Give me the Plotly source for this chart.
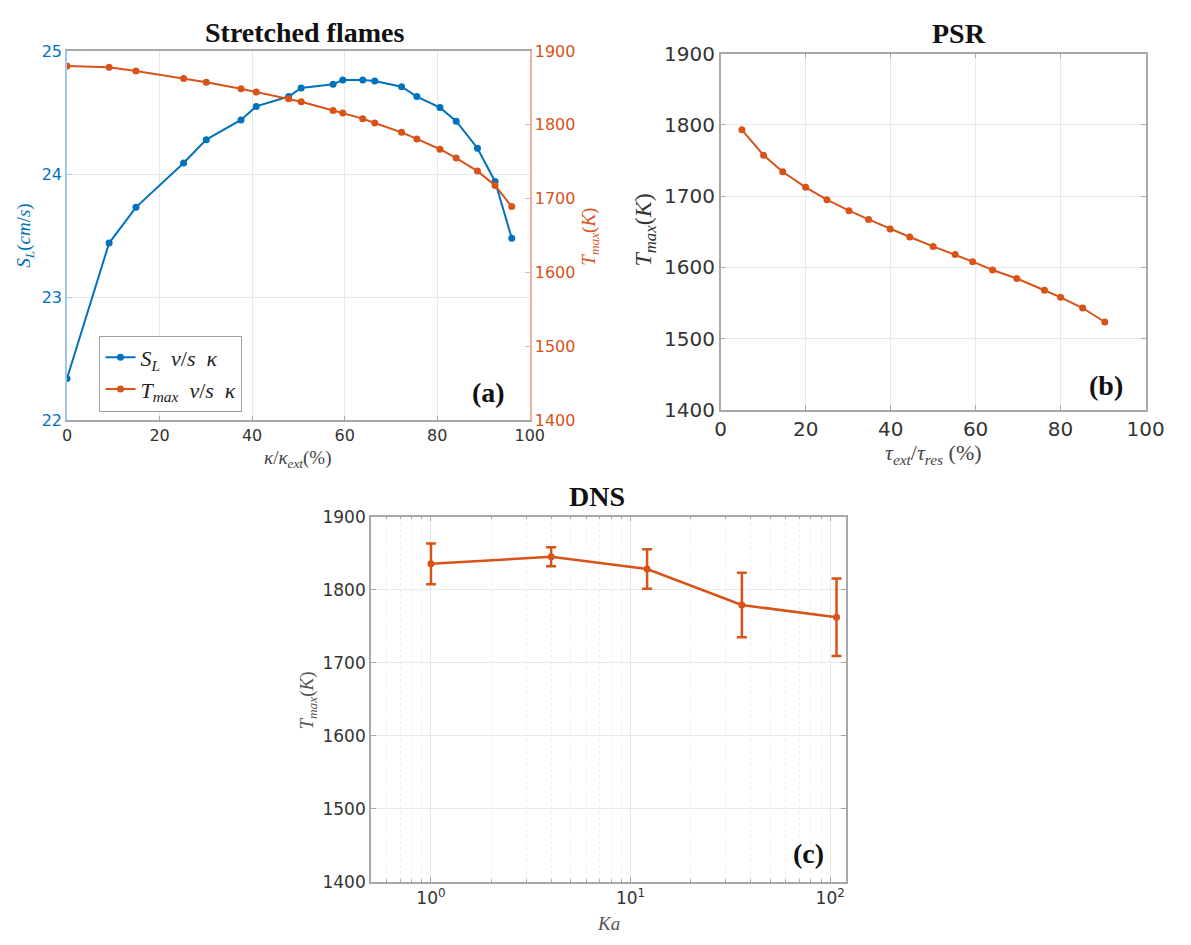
import plotly.graph_objects as go
import math

W, H = 1191, 945

# ---------------- data ----------------
# Panel (a): stretched flames
kappa_pct = [0, 9.1, 14.9, 25.2, 30.1, 37.6, 40.9, 47.9, 50.6, 57.5, 59.6, 63.9, 66.5,
             72.3, 75.6, 80.6, 84.1, 88.7, 92.5, 96.1]
SL = [22.34, 23.44, 23.73, 24.09, 24.28, 24.44, 24.55, 24.63, 24.70, 24.73, 24.765, 24.765,
      24.757, 24.71, 24.63, 24.54, 24.43, 24.21, 23.94, 23.48]
Tmax_a = [1879.7, 1878.0, 1873.0, 1862.6, 1857.7, 1848.9, 1844.5, 1835.2, 1831.3, 1819.4,
          1815.9, 1808.4, 1802.6, 1789.9, 1781.0, 1767.0, 1755.0, 1737.4, 1718.0, 1689.4]

# Panel (b): PSR
tau_pct = [5.0, 10.1, 14.6, 20.0, 25.0, 30.2, 34.8, 39.9, 44.5, 50.0, 55.2, 59.3, 64.0,
           69.7, 76.2, 80.0, 85.2, 90.4]
Tmax_b = [1793, 1757.4, 1734.2, 1712.4, 1695, 1679.6, 1667.3, 1654, 1642.7, 1629.5, 1618.1,
          1608.1, 1596.3, 1584.4, 1568, 1558, 1543, 1523.4]

# Panel (c): DNS
Ka = [1.0, 4.0, 12.1, 36.1, 107.6]
Tmax_c = [1835.3, 1845.0, 1828.2, 1779.0, 1762.1]
Tmax_c_err = [28, 13, 27, 44, 53]

ka_tickvals = [1, 10, 100]
ka_ticktext = ["10<sup>0</sup>", "10<sup>1</sup>", "10<sup>2</sup>"]

BLUE = "#0072BD"
ORANGE = "#D95319"
GRID = "#e8e8e8"
BOX = "#a8a8a8"
TICKC = "#333333"
SANS = "DejaVu Sans"
SERIF = "Liberation Serif"


def fx(px):
    return px / W


def fy(py):
    return 1 - py / H


fig = go.Figure()

# ---- (a) ----
fig.add_trace(go.Scatter(x=kappa_pct, y=SL, mode="lines+markers",
                         line=dict(color=BLUE, width=2), marker=dict(size=7, color=BLUE),
                         name="<i>S<sub>L</sub></i>  <i>v</i>/<i>s</i>  <i>κ</i>",
                         xaxis="x", yaxis="y"))
fig.add_trace(go.Scatter(x=kappa_pct, y=Tmax_a, mode="lines+markers",
                         line=dict(color=ORANGE, width=2), marker=dict(size=7, color=ORANGE),
                         name="<i>T<sub>max</sub></i>  <i>v</i>/<i>s</i>  <i>κ</i>",
                         xaxis="x", yaxis="y2"))
# ---- (b) ----
fig.add_trace(go.Scatter(x=tau_pct, y=Tmax_b, mode="lines+markers",
                         line=dict(color=ORANGE, width=2), marker=dict(size=7, color=ORANGE),
                         showlegend=False, xaxis="x3", yaxis="y3"))
# ---- (c) ----
fig.add_trace(go.Scatter(x=Ka, y=Tmax_c, mode="lines+markers",
                         line=dict(color=ORANGE, width=2.5), marker=dict(size=7, color=ORANGE),
                         error_y=dict(type="data", array=Tmax_c_err, visible=True,
                                      color=ORANGE, thickness=2.5, width=5),
                         showlegend=False, xaxis="x4", yaxis="y4"))

common = dict(showgrid=True, gridcolor=GRID, gridwidth=1, zeroline=False,
              ticks="inside", ticklen=5, tickcolor=BOX, showline=True, linecolor=BOX,
              linewidth=1.5)

fig.update_layout(
    width=W, height=H, margin=dict(l=0, r=0, t=0, b=0),
    paper_bgcolor="white", plot_bgcolor="white",
    showlegend=True,
    legend=dict(x=fx(95.5), y=fy(332), xanchor="left", yanchor="top",
                bgcolor="white", bordercolor="#a0a0a0", borderwidth=1,
                font=dict(family=SERIF, size=22, color="#222222"),
                itemwidth=30, tracegroupgap=0),
    xaxis=dict(domain=[fx(62.3), fx(535)], anchor="y", range=[0, 100], dtick=20,
               mirror=True, tickfont=dict(family=SANS, size=16, color=TICKC), **common),
    yaxis=dict(domain=[fy(419), fy(40)], anchor="x", range=[22, 25], dtick=1,
               showgrid=True, gridcolor=GRID, zeroline=False, ticks="inside", ticklen=5,
               tickcolor="#9cc7e6", showline=True, linecolor="#9cc7e6", linewidth=1.5,
               tickfont=dict(family=SANS, size=16, color=BLUE)),
    yaxis2=dict(overlaying="y", side="right", anchor="x", range=[1400, 1900], dtick=100,
                showgrid=False, zeroline=False, ticks="inside", ticklen=5,
                tickcolor="#f2b39a", showline=True, linecolor="#f2b39a", linewidth=1.5,
                tickfont=dict(family=SANS, size=16, color=ORANGE)),
    xaxis3=dict(domain=[fx(730), fx(1164)], anchor="y3", range=[0, 100], dtick=20,
                mirror="ticks", tickfont=dict(family=SANS, size=20, color=TICKC), **common),
    yaxis3=dict(domain=[fy(408.3), fy(42.7)], anchor="x3", range=[1400, 1900], dtick=100,
                mirror="ticks", tickfont=dict(family=SANS, size=20, color=TICKC), **common),
    xaxis4=dict(domain=[fx(372.7), fx(858)], anchor="y4", type="log",
                range=[math.log10(0.5), math.log10(120)],
                tickmode="array", tickvals=ka_tickvals, ticktext=ka_ticktext,
                minor=dict(tickmode="linear", dtick="D1", ticks="inside", ticklen=3,
                           tickcolor=BOX, showgrid=True, gridcolor="#eeeeee",
                           griddash="dot"),
                mirror="ticks", tickfont=dict(family=SANS, size=17, color=TICKC), **common),
    yaxis4=dict(domain=[fy(892.7), fy(517.7)], anchor="x4", range=[1400, 1900], dtick=100,
                mirror="ticks", tickfont=dict(family=SANS, size=17, color=TICKC), **common),
)

ann = []


def txt(x, y, text, size, color="#111111", family=SERIF, angle=0):
    ann.append(dict(x=fx(x), y=fy(y), xref="paper", yref="paper", text=text,
                    showarrow=False, xanchor="center", yanchor="middle",
                    textangle=angle, font=dict(family=family, size=size, color=color)))


# titles
txt(305, 21, "<b>Stretched flames</b>", 28)
txt(973, 22, "<b>PSR</b>", 28)
txt(604, 497, "<b>DNS</b>", 28)
# panel letters
txt(493, 390, "<b>(a)</b>", 28)
txt(1124, 383, "<b>(b)</b>", 28)
txt(820, 863, "<b>(c)</b>", 28)
# axis labels
txt(20, 230, "<i>S<sub>L</sub></i>(<i>cm</i>/<i>s</i>)", 19, color=BLUE, angle=-90)
txt(597, 230, "<i>T<sub>max</sub></i>(<i>K</i>)", 19, color=ORANGE, angle=-90)
txt(298, 459, "<i>κ</i>/<i>κ<sub>ext</sub></i>(%)", 19, color="#444444")
txt(653, 224, "<i>T<sub>max</sub></i>(<i>K</i>)", 24, color="#333333", angle=-90)
txt(947, 454, "<i>τ<sub>ext</sub></i>/<i>τ<sub>res</sub></i> (%)", 22, color="#444444")
txt(309, 707, "<i>T<sub>max</sub></i>(<i>K</i>)", 19, color="#555555", angle=-90)
txt(615, 935, "<i>Ka</i>", 19, color="#555555")

fig.update_layout(annotations=ann)

fig.write_html("out.html")
